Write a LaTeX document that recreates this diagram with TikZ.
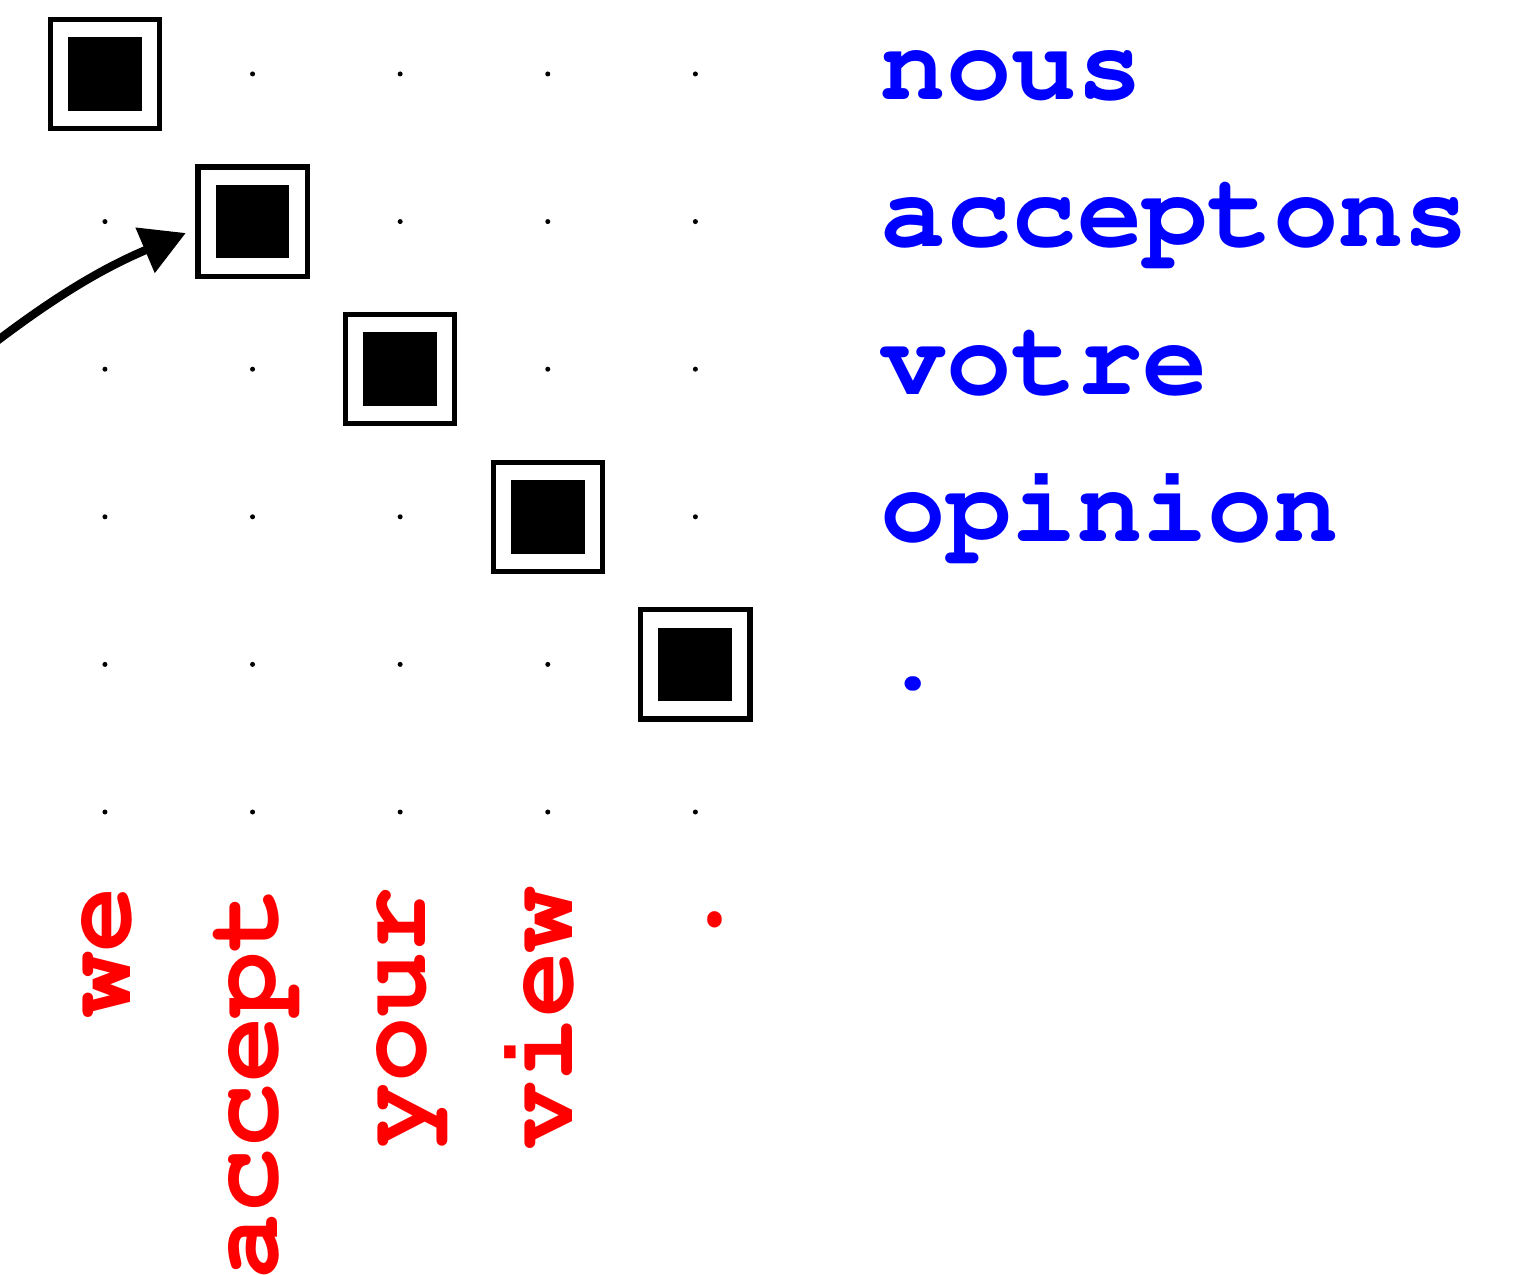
\documentclass[tikz,border=0pt]{standalone}
\usepackage[T1]{fontenc}
\usetikzlibrary{arrows.meta}

\newcommand{\wordfont}{\fontencoding{T1}\fontfamily{pcr}\fontseries{b}\fontsize{21}{25}\selectfont}

\tikzset{
  align box/.style={draw, line width=1pt, minimum size=0.74cm, inner sep=0pt},
  align fill/.style={fill=black, minimum size=0.5cm, inner sep=0pt},
  fr word/.style={blue, anchor=base west, inner sep=0pt, font=\wordfont},
  en word/.style={red, rotate=90, anchor=base east, inner sep=0pt, font=\wordfont}
}

\begin{document}
\begin{tikzpicture}
	% Fix the margins
	\useasboundingbox (-0.711,0.501) rectangle (9.634,-8.130);
	
	% Draw grid dots
	\foreach \i in {0,...,4} {
		\foreach \j in {0,...,5} {
			\fill (\i,-\j) circle (0.017);
		}
	}
	
	% Draw alignment boxes on the diagonal
	\foreach \i in {0,...,4} {
		\node[align box] (b\i) at (\i,-\i) {};
		\node[align fill] (f\i) at (\i,-\i) {};
	}
	
	% Add French words
	\foreach \w [count=\j from 0] in {nous,acceptons,votre,opinion,.} {
		\node[fr word] (fr\j) at (5.25,-\j-0.17) {\w};
	}
	
	% Add English words
	\foreach \w [count=\i from 0] in {we,accept,your,view,.} {
		\node[en word] (en\i) at (\i+0.17,-5.50) {\w};
	}
	
	% Draw arrow
	\coordinate (tail) at (-0.85,-1.90);
	\draw[-{Triangle[length=0.3cm,width=0.32cm]}, line width=1.6pt, shorten >=0.07cm]
		(tail) to[out=38,in=203] ([yshift=-0.05cm]b1.west);
\end{tikzpicture}
\end{document}
